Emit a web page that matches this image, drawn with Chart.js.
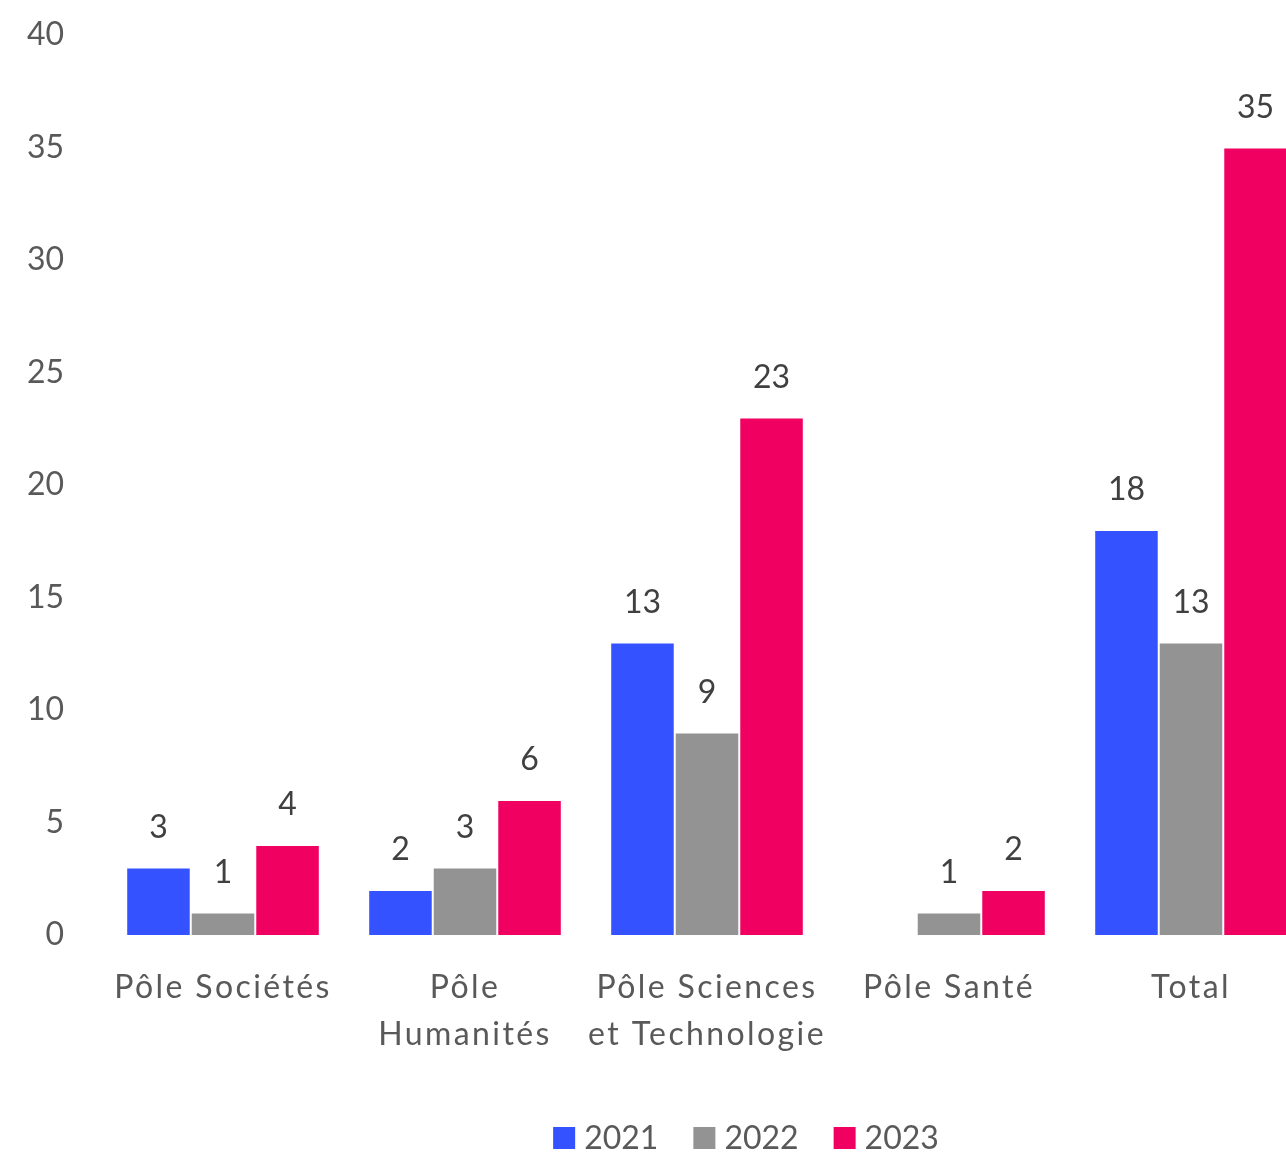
<!DOCTYPE html>
<html>
<head>
<meta charset="utf-8">
<script src="https://cdn.jsdelivr.net/npm/chart.js@4"></script>
<style>
html,body{margin:0;padding:0;background:#fff;overflow:hidden;}
#wrap{width:1312px;height:1156px;position:relative;}
</style>
</head>
<body>
<div id="wrap"><canvas id="c"></canvas></div>
<script>
const categories = ["Pôle Sociétés", ["Pôle", "Humanités"], ["Pôle Sciences", "et Technologie"], "Pôle Santé", "Total"];
const seriesNames = ["2021", "2022", "2023"];
const values2021 = [3, 2, 13, null, 18];
const values2022 = [1, 3, 9, 1, 13];
const values2023 = [4, 6, 23, 2, 35];
const yTicks = [0, 5, 10, 15, 20, 25, 30, 35, 40];

const colors = ["#3452FF", "#939393", "#F00060"];
const FONT = "Lato";

const labelPlugin = {
  id: 'barLabels',
  afterLayout(chart) {
    const xs = chart.scales.x;
    if (xs && !xs._spacedLabels) {
      const orig = xs.drawLabels;
      xs.drawLabels = function (area) {
        const ctx = this.ctx;
        ctx.save();
        ctx.letterSpacing = "2.4px";
        orig.call(this, area);
        ctx.restore();
      };
      xs._spacedLabels = true;
    }
  },
  afterDatasetsDraw(chart) {
    const ctx = chart.ctx;
    ctx.save();
    ctx.font = "32px " + FONT;
    ctx.fillStyle = "#404040";
    ctx.textAlign = "center";
    ctx.textBaseline = "middle";
    chart.data.datasets.forEach((ds, i) => {
      const meta = chart.getDatasetMeta(i);
      meta.data.forEach((bar, j) => {
        const v = ds.data[j];
        if (v === null || v === undefined) return;
        ctx.fillText(String(v), bar.x, bar.y - 40);
      });
    });
    ctx.restore();
  },
  afterDraw(chart) {
    // legend
    const ctx = chart.ctx;
    ctx.save();
    ctx.font = "32px " + FONT;
    ctx.textBaseline = "middle";
    ctx.textAlign = "left";
    const box = 22, gapText = 9, gapItem = 35;
    const items = chart.data.datasets.map(ds => ({label: ds.label, color: ds.backgroundColor, w: ctx.measureText(ds.label).width}));
    const total = items.reduce((s, it) => s + box + gapText + it.w, 0) + gapItem * (items.length - 1);
    const cx = 746;
    const cy = 1138;
    let x = cx - total / 2;
    items.forEach(it => {
      ctx.fillStyle = it.color;
      ctx.fillRect(x, cy - box / 2, box, box);
      ctx.fillStyle = "#595959";
      ctx.fillText(it.label, x + box + gapText, cy + 1);
      x += box + gapText + it.w + gapItem;
    });
    ctx.restore();
  }
};

new Chart(document.getElementById('c'), {
  type: 'bar',
  data: {
    labels: categories,
    datasets: [
      {label: seriesNames[0], data: values2021, backgroundColor: colors[0]},
      {label: seriesNames[1], data: values2022, backgroundColor: colors[1]},
      {label: seriesNames[2], data: values2023, backgroundColor: colors[2]}
    ].map(d => Object.assign(d, {borderColor: "#ffffff", borderWidth: 1, categoryPercentage: 0.8, barPercentage: 1.0}))
  },
  options: {
    responsive: true,
    maintainAspectRatio: false,
    animation: false,
    layout: {padding: {top: 35, right: 0, bottom: 0, left: 0}},
    plugins: {
      legend: {display: false},
      tooltip: {enabled: false}
    },
    scales: {
      x: {
        grid: {display: false, drawTicks: false},
        border: {display: false},
        ticks: {font: {family: FONT, size: 32, lineHeight: 1.47}, color: "#595959", padding: 29, maxRotation: 0, autoSkip: false},
        afterFit(scale) { scale.height = 221; scale.paddingLeft = 0; scale.paddingRight = 0; }
      },
      y: {
        min: 0, max: 40,
        afterBuildTicks(scale) { scale.ticks = yTicks.map(v => ({value: v})); },
        grid: {display: false, drawTicks: false},
        border: {display: false},
        ticks: {font: {family: FONT, size: 32}, color: "#595959", padding: 38},
        afterFit(scale) { scale.width = 102; scale.paddingTop = 0; scale.paddingBottom = 0; }
      }
    }
  },
  plugins: [labelPlugin]
});
</script>
</body>
</html>
